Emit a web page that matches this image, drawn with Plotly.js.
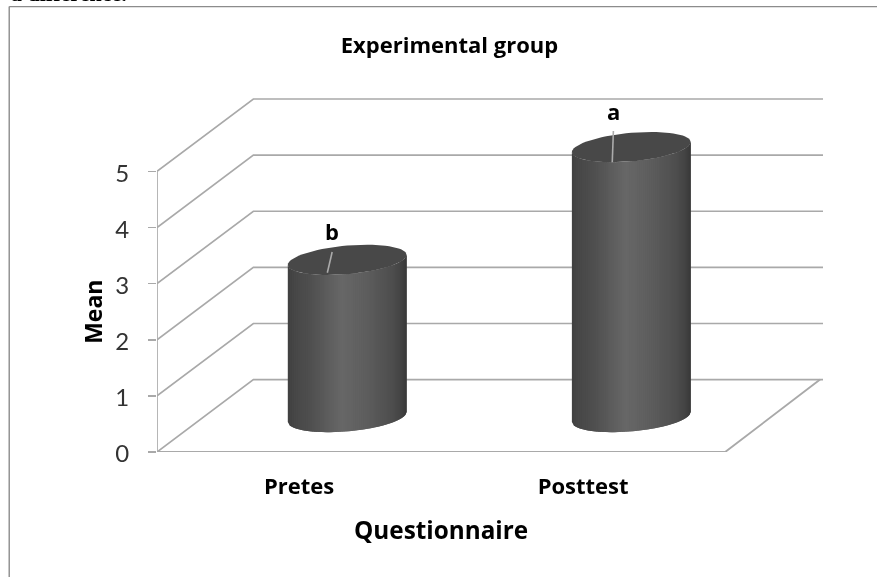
<!DOCTYPE html>
<html>
<head>
<meta charset="utf-8">
<script src="https://cdn.plot.ly/plotly-3.0.1.min.js"></script>
<style>
html,body{margin:0;padding:0;background:#fff;overflow:hidden}
#chart{width:877px;height:577px;filter:blur(0.4px)}
</style>
</head>
<body>
<div id="chart"></div>
<script>
// Data
const categories = ['Pretes', 'Posttest'];
const means = [2.8, 4.81];
const letters = ['b', 'a'];
const yTicks = [0, 1, 2, 3, 4, 5];
// Label height above each bar top, and data-label leader ends (offsets from the bar top centre)
const labelLift = [0.52, 0.65];
const leaderTop = [[-0.053, 0.14], [-0.063, 0.285]];
const leaderBottom = [[-0.07, -0.23], [-0.067, -0.27]];
// Cylinder side shading, position across the width -> grey level
const shadeStops = [-1, -0.9, -0.6, -0.1, 0.3, 0.75, 0.92, 1];
const shadeGrey = [64, 70, 80, 103, 94, 78, 66, 56];

// Frame of the drawing (pixels)
// Front plane of the 3D box carries the visible axes; a hidden pair with the same scale
// but a larger domain carries the marks, so the back walls are not clipped.
const W = 877, H = 577;
const frontLeft = 156.5, frontRight = 725.5, floorY = 452.5, frontTop = 171.5;
const outerRight = 824.5, outerTop = 92;
const outerW = outerRight - frontLeft, outerH = floorY - outerTop;
const xMax = categories.length, yMax = yTicks[yTicks.length - 1];
const pxPerCat = (frontRight - frontLeft) / xMax, pxPerVal = (floorY - frontTop) / yMax;
const m = {l: frontLeft, r: W - outerRight, t: outerTop, b: H - floorY};
const toPaperX = p => (p - frontLeft) / outerW;
const toPaperY = p => (floorY - p) / outerH;

// Oblique depth of the 3D box, in axis units
const depthX = 96.5 / pxPerCat, depthY = 1.29;
const wallEnd = (823.5 - frontLeft) / pxPerCat;
const radiusX = 59.5 / pxPerCat, tiltY = 5 / pxPerVal, radiusY = 14.3 / pxPerVal;
const gridColor = '#a9a9a9';

const traces = [{type: 'scatter', mode: 'none', x: [0, xMax], y: [0, yMax], xaxis: 'x', yaxis: 'y', hoverinfo: 'skip', showlegend: false}];
function line(xs, ys, color, width) {
  traces.push({type: 'scatter', mode: 'lines', x: xs, y: ys, xaxis: 'x2', yaxis: 'y2', hoverinfo: 'skip', showlegend: false,
    line: {color: color, width: width, simplify: false}});
}
function poly(xs, ys, color) {
  traces.push({type: 'scatter', mode: 'lines', x: xs, y: ys, xaxis: 'x2', yaxis: 'y2', fill: 'toself', fillcolor: color,
    hoverinfo: 'skip', showlegend: false, line: {color: color, width: 0}});
}

// Walls: one bent gridline per tick
yTicks.forEach(v => {
  line([0, depthX, wallEnd], [v, v + depthY, v + depthY], gridColor, 1.7);
});
// Front axis and floor outline
line([0, 0], [0, yMax], gridColor, 1.7);
line([0, xMax, xMax + depthX - 0.005], [0, 0, depthY], gridColor, 1.9);

function shade(u) {
  let i = 0;
  while (i < shadeStops.length - 2 && u > shadeStops[i + 1]) i++;
  const f = (u - shadeStops[i]) / (shadeStops[i + 1] - shadeStops[i]);
  const g = Math.round(shadeGrey[i] + f * (shadeGrey[i + 1] - shadeGrey[i]));
  return 'rgb(' + g + ',' + g + ',' + g + ')';
}

// Cylinders
const annotations = [];
means.forEach((val, i) => {
  const cx = i + 0.5 + depthX / 2;
  const baseY = depthY / 2 - 0.022;
  const topY = baseY + val;
  const frontEdge = (u, yc) => yc + tiltY * u - radiusY * Math.sqrt(Math.max(0, 1 - u * u));
  const steps = 60;
  for (let s = 0; s < steps; s++) {
    // each strip reaches over the next one, and the next one paints over it: no seams
    const u1 = -1 + 2 * s / steps, u2 = Math.min(1, -1 + 2 * (s + 2) / steps);
    const xs = [], ys = [];
    [[u1, baseY], [(u1 + u2) / 2, baseY], [u2, baseY], [u2, topY], [(u1 + u2) / 2, topY], [u1, topY]].forEach(p => {
      xs.push(cx + radiusX * p[0]);
      ys.push(frontEdge(p[0], p[1]));
    });
    poly(xs, ys, shade(-1 + 2 * (s + 0.5) / steps));
  }
  const ex = [], ey = [];
  for (let a = 0; a <= 72; a++) {
    const t = a / 72 * 2 * Math.PI;
    ex.push(cx + radiusX * Math.cos(t));
    ey.push(topY + tiltY * Math.cos(t) + radiusY * Math.sin(t));
  }
  poly(ex, ey, '#484848');
  line([cx + leaderTop[i][0], cx + leaderBottom[i][0]],
       [topY + leaderTop[i][1], topY + leaderBottom[i][1]], '#ababab', 1.6);
  annotations.push({xref: 'x2', yref: 'y2', x: cx + leaderTop[i][0], y: topY + labelLift[i],
    text: letters[i], showarrow: false, font: {family: 'Open Sans', size: 22, color: '#000', weight: 700}});
});

// Cut-off line of surrounding text at the very top of the picture
annotations.push({xref: 'paper', yref: 'paper', x: toPaperX(9), y: toPaperY(6.5), xanchor: 'left', yanchor: 'bottom',
  showarrow: false, borderpad: 0, text: 'a difference.',
  font: {family: 'Liberation Serif', size: 22, color: '#000', weight: 700}});

const layout = {
  width: W, height: H, margin: m, paper_bgcolor: '#fff', plot_bgcolor: 'rgba(0,0,0,0)', showlegend: false,
  title: {text: 'Experimental group', x: 449.5 / W, xanchor: 'center', y: 1 - 45 / H, yanchor: 'middle',
    font: {family: 'Open Sans', size: 22, color: '#000', weight: 700}},
  xaxis: {domain: [0, toPaperX(frontRight)], range: [0, xMax], anchor: 'y', showgrid: false, zeroline: false, showline: false,
    tickmode: 'array', tickvals: categories.map((c, i) => i + 0.5), ticktext: categories,
    ticks: 'outside', ticklen: 15, tickcolor: 'rgba(0,0,0,0)',
    tickfont: {family: 'Open Sans', size: 22, color: '#000', weight: 700},
    title: {text: 'Questionnaire', standoff: 22, font: {family: 'Open Sans', size: 24.3, color: '#000', weight: 700}}},
  yaxis: {domain: [0, toPaperY(frontTop)], range: [0, yMax], anchor: 'x', showgrid: false, zeroline: false, showline: false,
    tickmode: 'array', tickvals: yTicks, ticktext: yTicks.map(String),
    ticks: 'outside', ticklen: 8, tickwidth: 1.7, tickcolor: gridColor, ticklabelstandoff: 14, ticklabelshift: 2,
    tickfont: {family: 'Lato', size: 24, color: '#333'},
    title: {text: 'Mean', standoff: 6, font: {family: 'Open Sans', size: 23, color: '#000', weight: 700}}},
  xaxis2: {domain: [0, 1], range: [0, outerW / pxPerCat], anchor: 'y2', visible: false},
  yaxis2: {domain: [0, 1], range: [0, outerH / pxPerVal], anchor: 'x2', visible: false},
  shapes: [
    {type: 'line', xref: 'paper', yref: 'paper', x0: toPaperX(8.5), x1: toPaperX(8.5), y0: toPaperY(6.5), y1: toPaperY(H + 2), line: {color: '#8c8c8c', width: 1.4}},
    {type: 'line', xref: 'paper', yref: 'paper', x0: toPaperX(8.5), x1: toPaperX(W + 2), y0: toPaperY(6.5), y1: toPaperY(6.5), line: {color: '#8c8c8c', width: 1.4}}
  ],
  annotations: annotations
};
Plotly.newPlot('chart', traces, layout, {displayModeBar: false, staticPlot: true});
</script>
</body>
</html>
